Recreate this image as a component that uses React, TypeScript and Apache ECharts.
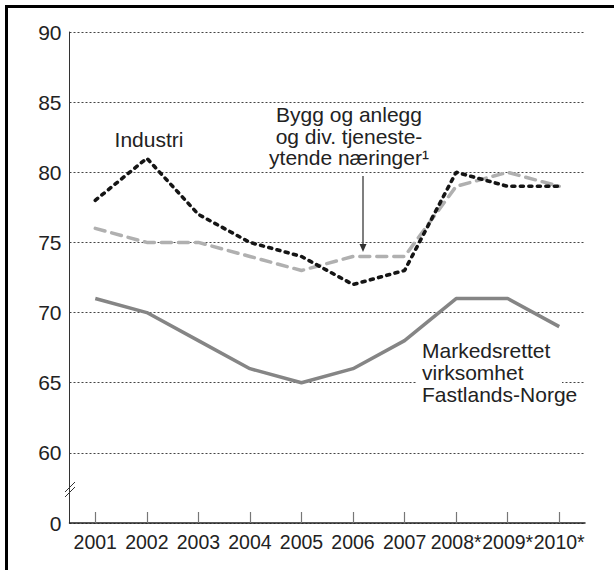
import React, { useEffect, useRef } from "react";
import * as echarts from "echarts";

const years = ["2001", "2002", "2003", "2004", "2005", "2006", "2007", "2008*", "2009*", "2010*"];
const industri = [78, 81, 77, 75, 74, 72, 73, 80, 79, 79];
const bygg = [76, 75, 75, 74, 73, 74, 74, 79, 80, 79];
const markedsrettet = [71, 70, 68, 66, 65, 66, 68, 71, 71, 69];
const yTickLabels: Record<number, string> = { 55: "0", 60: "60", 65: "65", 70: "70", 75: "75", 80: "80", 85: "85", 90: "90" };

const FONT = "'Liberation Sans', Arial, sans-serif";

export default function App() {
  const ref = useRef<HTMLDivElement>(null);
  useEffect(() => {
    if (!ref.current) return;
    const chart = echarts.init(ref.current, undefined, { renderer: "svg" });
    chart.setOption({
      animation: false,
      backgroundColor: "#ffffff",
      grid: { left: 69.5, right: 29, top: 32, bottom: 47, containLabel: false },
      xAxis: {
        type: "category",
        data: years,
        boundaryGap: true,
        axisLine: { lineStyle: { color: "#222", width: 1.5 } },
        axisTick: { show: true, alignWithLabel: true, inside: true, length: 11, lineStyle: { color: "#777", width: 1.2 } },
        axisLabel: { color: "#222", fontSize: 19.5, fontFamily: FONT, margin: 9, interval: 0 },
        splitLine: { show: false },
      },
      yAxis: {
        type: "value",
        min: 55,
        max: 90,
        interval: 5,
        axisLine: { show: true, lineStyle: { color: "#333", width: 1 } },
        axisTick: { show: false },
        axisLabel: {
          color: "#222",
          fontSize: 21,
          fontFamily: FONT,
          margin: 8,
          formatter: (v: number) => yTickLabels[v] ?? String(v),
        },
        splitLine: { show: true, lineStyle: { color: "#444", width: 1, type: [2, 2] } },
      },
      series: [
        {
          name: "Markedsrettet virksomhet Fastlands-Norge",
          type: "line",
          data: markedsrettet,
          showSymbol: false,
          lineStyle: { color: "#858585", width: 3.5, join: "round" },
          z: 3,
        },
        {
          name: "Bygg og anlegg og div. tjenesteytende næringer",
          type: "line",
          data: bygg,
          showSymbol: false,
          lineStyle: { color: "#b0b0b0", width: 3.5, type: [10, 7], cap: "round" },
          z: 3,
        },
        {
          name: "Industri",
          type: "line",
          data: industri,
          showSymbol: false,
          lineStyle: { color: "#151515", width: 3.6, type: [3, 5.5], cap: "round" },
          z: 4,
        },
      ],
      graphic: [
        {
          type: "line",
          shape: { x1: 6.5, y1: 5, x2: 6.5, y2: 575 },
          style: { stroke: "#000", lineWidth: 3 },
          z: 20,
        },
        {
          type: "line",
          shape: { x1: 5, y1: 6.5, x2: 620, y2: 6.5 },
          style: { stroke: "#000", lineWidth: 3 },
          z: 20,
        },
        {
          type: "rect",
          shape: { x: 416, y: 342, width: 146, height: 66 },
          style: { fill: "#ffffff" },
          z: 1,
        },
        {
          type: "line",
          shape: { x1: 65, y1: 492, x2: 75, y2: 482 },
          style: { stroke: "#333", lineWidth: 1 },
          z: 10,
        },
        {
          type: "line",
          shape: { x1: 65, y1: 497, x2: 75, y2: 487 },
          style: { stroke: "#333", lineWidth: 1 },
          z: 10,
        },
        {
          type: "text",
          x: 149,
          y: 139,
          style: { text: "Industri", fill: "#222", font: `21px ${FONT}`, align: "center", verticalAlign: "middle" },
          z: 10,
        },
        {
          type: "text",
          x: 349,
          y: 104,
          style: {
            text: "Bygg og anlegg\nog div. tjeneste-\nytende næringer¹",
            fill: "#222",
            font: `21px ${FONT}`,
            align: "center",
            verticalAlign: "top",
            lineHeight: 21.5,
          },
          z: 10,
        },
        {
          type: "text",
          x: 422,
          y: 340,
          style: {
            text: "Markedsrettet\nvirksomhet\nFastlands-Norge",
            fill: "#222",
            font: `21px ${FONT}`,
            align: "left",
            verticalAlign: "top",
            lineHeight: 21.7,
          },
          z: 10,
        },
        {
          type: "line",
          shape: { x1: 363, y1: 176, x2: 363, y2: 246 },
          style: { stroke: "#555", lineWidth: 1.5 },
          z: 10,
        },
        {
          type: "polygon",
          shape: { points: [[359.5, 244], [366.5, 244], [363, 252]] },
          style: { fill: "#333" },
          z: 10,
        },
      ],
    });
    return () => chart.dispose();
  }, []);
  return <div ref={ref} style={{ position: "absolute", left: 0, top: 0, width: 614, height: 570 }} />;
}
